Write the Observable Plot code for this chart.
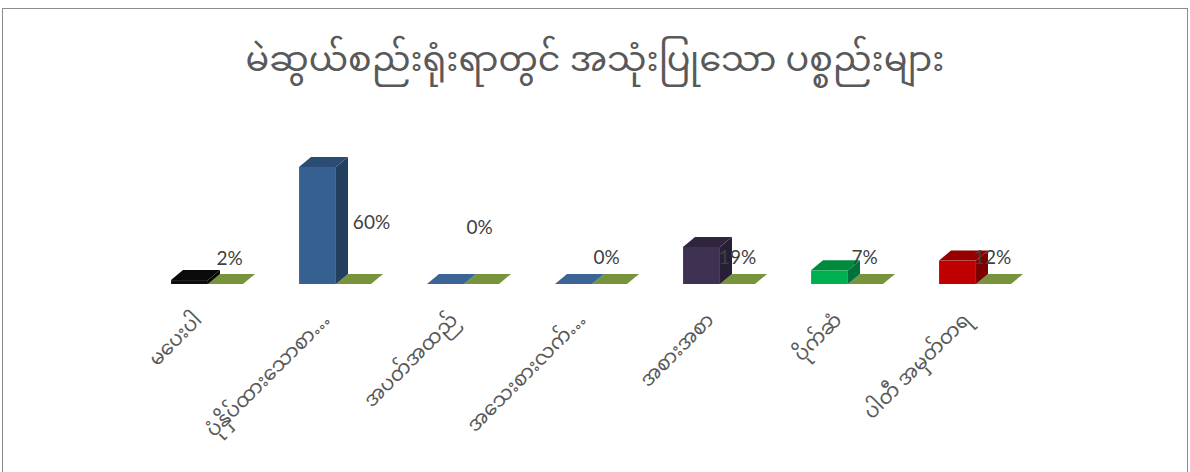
<!DOCTYPE html>
<html><head><meta charset="utf-8">
<script src="https://cdn.jsdelivr.net/npm/d3@7"></script>
<script src="https://cdn.jsdelivr.net/npm/@observablehq/plot@0.6"></script>
<style>
body{margin:0;width:1190px;height:472px;overflow:hidden;background:#fff;position:relative;font-family:"Noto Sans Myanmar","Padauk","Myanmar Text","Noto Sans",sans-serif}
#frame{position:absolute;left:2px;top:8px;width:1186px;height:520px;border:1.5px solid #8c8c8c;box-sizing:border-box}
#title{position:absolute;left:0;top:36px;width:1190px;text-align:center;font-size:35px;color:#595959;line-height:54px;white-space:nowrap}
#chart{position:absolute;left:0;top:110px}
</style></head><body>
<div id="frame"></div>
<div id="title">မဲဆွယ်စည်းရုံးရာတွင် အသုံးပြုသော ပစ္စည်းများ</div>
<div id="chart"></div>
<script>
// ---- data ----
const categories = ["မပေးပါ", "ပုံနှိပ်ထားသောစာ…", "အပတ်အထည်", "အသေးစားလက်…", "အစားအစာ", "ပိုက်ဆံ", "ပါတီ အမှတ်တရ"];
const values = [2, 60, 0, 0, 19, 7, 12];          // series 1 (%)
const floorValues = [0, 0, 0, 0, 0, 0, 0];        // series 2 (%)
const valueLabels = ["2%", "60%", "0%", "0%", "19%", "7%", "12%"];
const labelAt = [13.3, 31.8, 29.2, 13.8, 13.8, 13.8, 13.8]; // where each label sits, in % units
const labelNudge = [21, 35, 15, 14, 17, 16, 16];

// ---- styles ----
const frontColors = ["#0d0d0d", "#376092", "#3c6494", "#3c6494", "#3f3151", "#00b050", "#c00000"];
const topColors   = ["#0a0a0a", "#2b4c74", "#3c6494", "#3c6494", "#30253f", "#008a3e", "#960000"];
const sideColors  = ["#050505", "#233f60", "#2e4f78", "#2e4f78", "#281f36", "#00723a", "#7d0000"];
const floorColor = "#77933c";
const barW = 37, floorW = 35, DX = 12, DY = 10;

const rows = categories.map((c, i) => ({cat: c, value: values[i], front: frontColors[i], label: valueLabels[i], at: labelAt[i]}));

function poly(g, pts, fill) {
  g.append("path").attr("d", "M" + pts.map(p => p.join(",")).join("L") + "Z").attr("fill", fill);
}

const faces = (index, scales) => {
  const {x, y} = scales;
  const bw = x.bandwidth ? x.bandwidth() : 128;
  const g = d3.create("svg:g");
  categories.forEach((c, i) => {
    const cx = x(c) + bw / 2;
    const y0 = y(0), yt = y(values[i]), yf = y(floorValues[i]);
    const a = cx - barW, b = cx;
    // series 2 (flat)
    poly(g, [[cx, yf], [cx + floorW, yf], [cx + floorW + DX, yf - DY], [cx + DX, yf - DY]], floorColor);
    // series 1 side and top
    if (values[i] > 0) poly(g, [[b, yt], [b, y0], [b + DX, y0 - DY], [b + DX, yt - DY]], sideColors[i]);
    poly(g, [[a, yt], [b, yt], [b + DX, yt - DY], [a + DX, yt - DY]], topColors[i]);
  });
  return g.node();
};

const bandW = (1040 - 143) / categories.length;

const chart = Plot.plot({
  width: 1190,
  height: 362,
  marginLeft: 143,
  marginRight: 150,
  marginTop: 20,
  marginBottom: 188,
  x: {domain: categories, range: [143, 1040], padding: 0, label: null},
  y: {domain: [0, 60], range: [174, 57], axis: null},
  style: {background: "transparent", overflow: "visible"},
  marks: [
    Plot.barY(rows, {x: "cat", y: "value", fill: "front", insetLeft: bandW / 2 - barW, insetRight: bandW / 2}),
    faces,
    Plot.axisX({tickSize: 0, tickPadding: 32, tickRotate: -45, fontSize: 20, fill: "#595959", dx: -10,
      fontFamily: '"Noto Sans Myanmar","Padauk","Myanmar Text",sans-serif'}),
    ...rows.map((r, i) => Plot.text([r], {x: "cat", y: "at", text: "label", dx: labelNudge[i],
      fontSize: 19, fill: "#404040", fontFamily: "Lato, 'Liberation Sans', sans-serif"}))
  ]
});
document.getElementById("chart").append(chart);
</script>
</body></html>
